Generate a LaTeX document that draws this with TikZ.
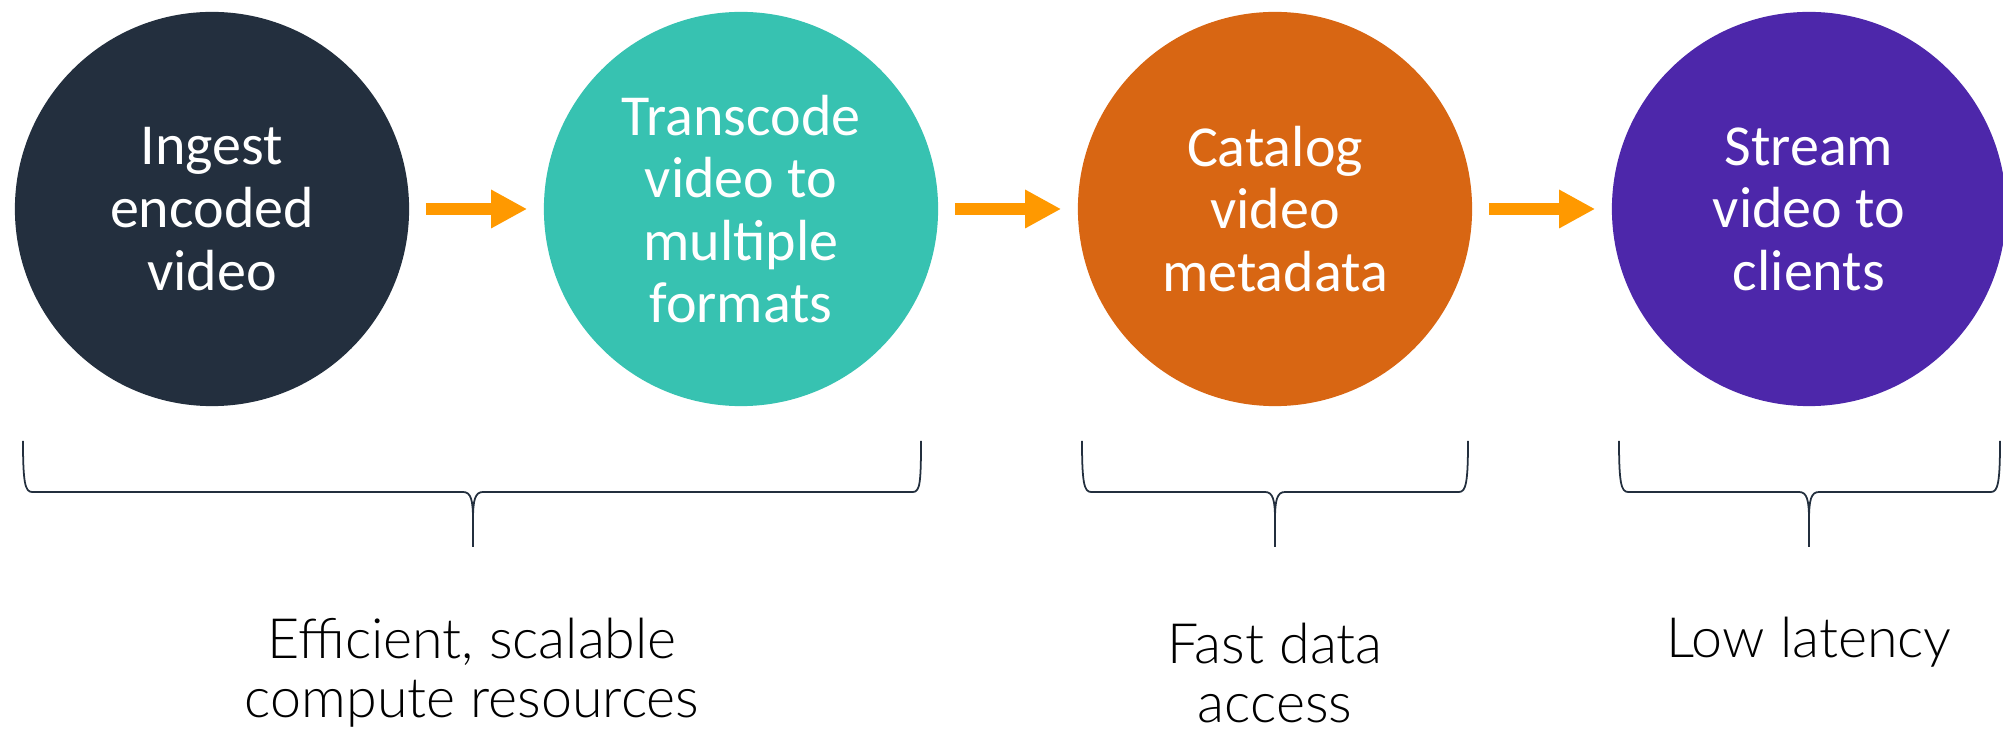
\documentclass[tikz,border=0pt]{standalone}
\usepackage{fontspec}
\setmainfont{Carlito}
\newfontfamily\lightfont{Lato}[UprightFont={* Light}]
\usetikzlibrary{arrows.meta}
\usetikzlibrary{positioning}

\definecolor{stepink}{HTML}{232F3E}
\definecolor{stepteal}{HTML}{37C2B1}
\definecolor{steporange}{HTML}{D86613}
\definecolor{steppurple}{HTML}{4D27AA}
\definecolor{floworange}{HTML}{FF9900}

\begin{document}
\begin{tikzpicture}[x=0.01cm, y=-0.01cm,
    stage/.style={circle, minimum size=3.94cm, inner sep=0pt, text=white, align=center, font=\fontsize{16.5}{17.8}\selectfont},
    flow/.style={draw=floworange, line width=0.12cm, -{Triangle[length=0.36cm, width=0.36cm]}},
    brace/.style={draw=stepink, line width=0.5pt},
    note/.style={align=center, inner sep=0pt, text=black, font=\lightfont\fontsize{15.8}{16.8}\selectfont}]
          \useasboundingbox (0,0) rectangle (2003,731);

          \node[stage, fill=stepink] (ingest) at (212, 209) {Ingest\\encoded\\video};

          \node[stage, fill=stepteal] (transcode) at (741, 209) {Transcode\\video to\\multiple\\formats};

          \node[stage, fill=steporange] (catalog) at (1275, 209) {Catalog\\video\\metadata};

          \node[stage, fill=steppurple] (stream) at (1809, 209) {Stream\\video to\\clients};

          \draw[flow] ([xshift=0.16cm]ingest.east) -- ([xshift=-0.16cm]transcode.west);
          \draw[flow] ([xshift=0.16cm]transcode.east) -- ([xshift=-0.16cm]catalog.west);
          \draw[flow] ([xshift=0.16cm]catalog.east) -- ([xshift=-0.16cm]stream.west);

          % braces under the stages
          \draw[brace] (23,441) .. controls (23,482) and (25,492) .. (32,492) -- (463,492)
            .. controls (471,492) and (473,500) .. (473,520) -- (473,547)
            (473,520) .. controls (473,500) and (475,492) .. (483,492) -- (913,492)
            .. controls (920,492) and (921,482) .. (921,441);
          \draw[brace] (1082,441) .. controls (1082,482) and (1084,492) .. (1091,492) -- (1265,492)
            .. controls (1273,492) and (1275,500) .. (1275,520) -- (1275,547)
            (1275,520) .. controls (1275,500) and (1277,492) .. (1285,492) -- (1459,492)
            .. controls (1466,492) and (1468,482) .. (1468,441);
          \draw[brace] (1619,441) .. controls (1619,482) and (1621,492) .. (1628,492) -- (1799,492)
            .. controls (1807,492) and (1809,500) .. (1809,520) -- (1809,547)
            (1809,520) .. controls (1809,500) and (1811,492) .. (1819,492) -- (1991,492)
            .. controls (1998,492) and (2000,482) .. (2000,441);

          \node[note] (compute) at (472, 673) {Efficient, scalable\\compute resources};
          \node[note] (access) at (1275, 673) {Fast data\\access};
          \node[note] (latency) at (1809, 642) {Low latency};
        \end{tikzpicture}
\end{document}
